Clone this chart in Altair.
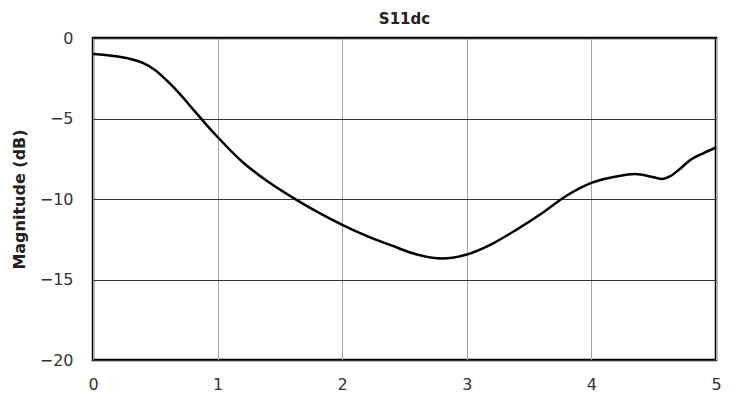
import altair as alt
import pandas as pd

freq = [0.0, 0.1, 0.2, 0.3, 0.4, 0.5, 0.6, 0.7, 0.8, 0.9, 1.0, 1.2, 1.4, 1.6, 1.8,
        2.0, 2.2, 2.4, 2.6, 2.8, 3.0, 3.2, 3.4, 3.6, 3.8, 4.0, 4.2, 4.35, 4.5, 4.57,
        4.63, 4.7, 4.79, 4.9, 5.0]
mag = [-1.0, -1.05, -1.15, -1.3, -1.55, -2.0, -2.7, -3.5, -4.4, -5.3, -6.15, -7.7,
       -8.9, -9.9, -10.8, -11.6, -12.3, -12.9, -13.45, -13.7, -13.45, -12.8, -11.9,
       -10.9, -9.8, -9.0, -8.6, -8.45, -8.65, -8.75, -8.6, -8.2, -7.6, -7.15, -6.8]

df = pd.DataFrame({"freq": freq, "mag": mag})

FONT = "DejaVu Sans"

line = alt.Chart(df).mark_line(color="black", strokeWidth=2.5, interpolate="monotone").encode(
    x=alt.X("freq:Q", scale=alt.Scale(domain=[0, 5], nice=False),
            axis=alt.Axis(values=[0, 1, 2, 3, 4, 5], title=None, grid=True,
                          gridColor="#a6a6a6", gridWidth=1, domain=False,
                          ticks=False, labelPadding=16, labelFontSize=16,
                          labelFlush=False, labelBound=False,
                          labelColor="#333333", labelFont=FONT)),
    y=alt.Y("mag:Q", scale=alt.Scale(domain=[-20, 0], nice=False),
            axis=alt.Axis(values=[-20, -15, -10, -5, 0], title="Magnitude (dB)",
                          grid=True, gridColor="#333333", gridWidth=1.2,
                          domain=False, ticks=False, labelPadding=20,
                          labelFlush=False, labelBound=False,
                          labelFontSize=16, labelColor="#333333", labelFont=FONT,
                          titleFont=FONT, titleFontSize=16, titleFontWeight="bold",
                          titleColor="#222222", titlePadding=12)),
)

chart = line.properties(
    width=623,
    height=322,
    title=alt.Title("S11dc", font=FONT, fontSize=15, fontWeight="bold",
                    color="#222222", offset=11, dy=8, anchor="middle", frame="group"),
    autosize=alt.AutoSizeParams(type="none"),
    padding={"left": 85, "top": 30, "right": 10, "bottom": 33},
    background="white",
).configure_view(stroke="black", strokeWidth=2.5)

chart.save("out.html", embed_options={"renderer": "svg", "actions": False})
